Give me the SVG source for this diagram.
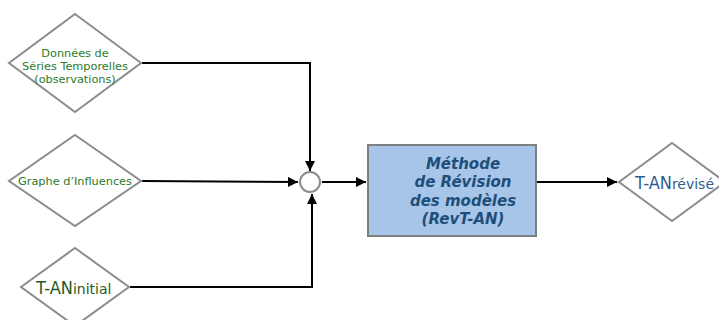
<svg xmlns="http://www.w3.org/2000/svg" width="719" height="320" viewBox="0 0 719 320">
<style>
.dia{fill:#fff;stroke:#8c8c8c;stroke-width:2}
.g{fill:#2a7a2a;font-family:"DejaVu Sans",Verdana,sans-serif;font-size:11.3px;text-anchor:middle}
.big{font-family:"DejaVu Sans Condensed","DejaVu Sans",sans-serif;font-size:18px}
.sub{font-family:"DejaVu Sans",sans-serif;font-size:14px}
.tg{fill:#1f5c1f}
.tb{fill:#2f5d8f}
.c{fill:none;stroke:#000;stroke-width:2}
.m{fill:#1f4e79;font-family:"DejaVu Sans",Verdana,sans-serif;font-size:15px;font-weight:bold;font-style:italic;text-anchor:middle}
</style>
<defs>
<marker id="ah" viewBox="0 0 10 10" refX="10" refY="5" markerWidth="5" markerHeight="5" orient="auto" markerUnits="strokeWidth">
<path d="M0,0 L10,5 L0,10 z" fill="#000"/>
</marker>
</defs>
<g id="connectors">
<polyline class="c" points="142,63 310,63 310,171" marker-end="url(#ah)"/>
<line class="c" x1="142" y1="181" x2="298" y2="182" marker-end="url(#ah)"/>
<polyline class="c" points="130,287 312,287 312,194" marker-end="url(#ah)"/>
<line class="c" x1="322" y1="182" x2="366" y2="182" marker-end="url(#ah)"/>
<line class="c" x1="537" y1="182" x2="617" y2="182" marker-end="url(#ah)"/>
</g>
<g id="n-donnees">
<polygon class="dia" points="75,14 141,63 75,112 9,63"/>
<text class="g" x="75" y="57">Données de</text>
<text class="g" x="75" y="70">Séries Temporelles</text>
<text class="g" x="75" y="83">(observations)</text>
</g>
<g id="n-graphe">
<polygon class="dia" points="75,135 141,181 75,226 9,181"/>
<text class="g" x="75" y="185">Graphe d’Influences</text>
</g>
<g id="n-initial">
<polygon class="dia" points="75,248 129,287 75,326 21,287"/>
<text class="tg" x="36" y="294"><tspan class="big">T-AN</tspan><tspan class="sub">initial</tspan></text>
</g>
<g id="n-junction">
<circle cx="310" cy="182" r="10" fill="#fff" stroke="#8c8c8c" stroke-width="2"/>
</g>
<g id="n-methode">
<rect x="368" y="145" width="168" height="91" fill="#a6c5e8" stroke="#7f7f7f" stroke-width="2"/>
<text class="m" x="463" y="169">Méthode</text>
<text class="m" x="463" y="187">de Révision</text>
<text class="m" x="463" y="206">des modèles</text>
<text class="m" x="463" y="224">(RevT-AN)</text>
</g>
<g id="n-revise">
<polygon class="dia" points="672,143 725,182 672,221 619,182"/>
<text class="tb" x="635" y="189"><tspan class="big">T-AN</tspan><tspan class="sub">révisé</tspan></text>
</g>
</svg>
